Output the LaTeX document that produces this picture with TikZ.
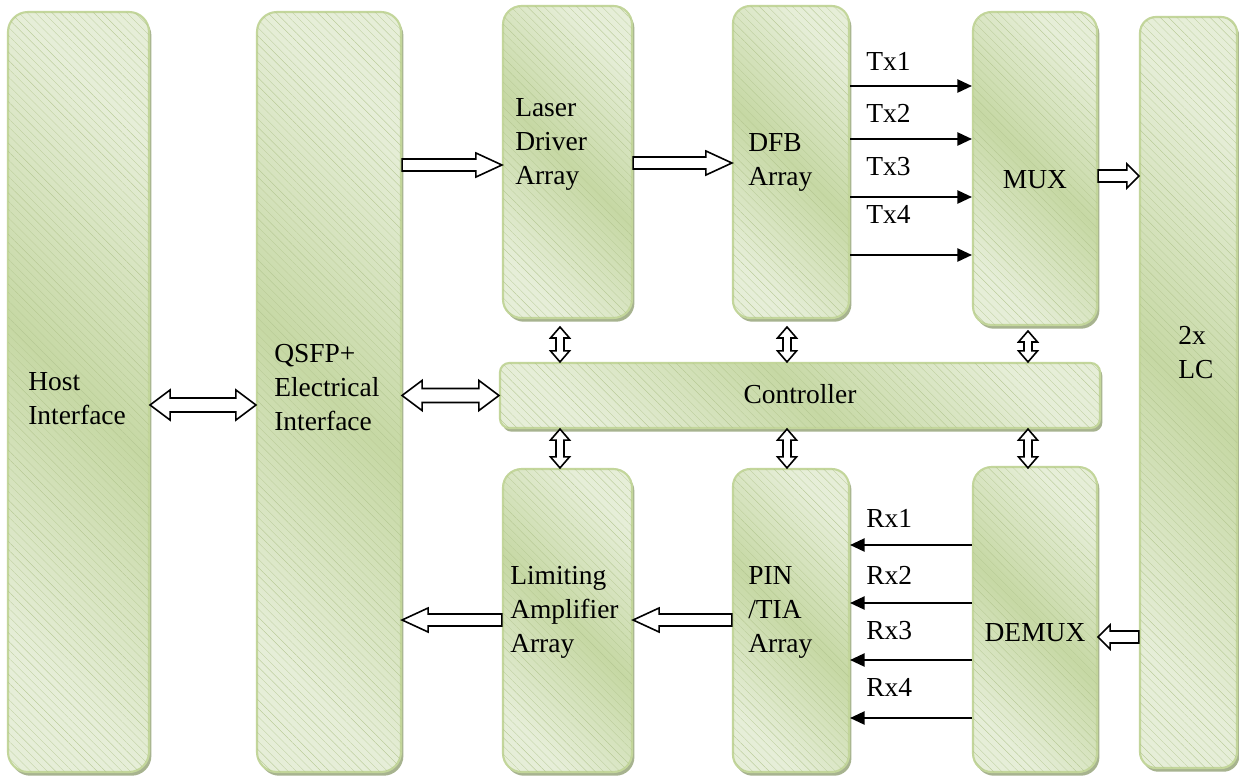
\documentclass[tikz,border=0pt]{standalone}
\usepackage{fontspec}
\setmainfont{Liberation Serif}
\usetikzlibrary{shadows,fit,calc,arrows.meta,patterns.meta}
\definecolor{bfillL}{HTML}{E6EED8}
\definecolor{bfillD}{HTML}{C6D8A4}
\definecolor{bdraw}{HTML}{C3D69B}
\definecolor{bshadow}{HTML}{A7B38F}
\definecolor{hatchc}{HTML}{B2C58E}
\tikzset{
  box/.style={draw=bdraw, line width=1.6pt, top color=bfillL, bottom color=bfillL,
    middle color=bfillD, shading angle=-45, inner sep=0pt,
    drop shadow={shadow xshift=1.8pt, shadow yshift=-2.8pt, fill=bshadow, opacity=1},
    postaction={pattern={Lines[angle=-45,distance=4.4pt,line width=0.18pt]}, pattern color=hatchc}},
  lbl/.style={font=\fontsize{20.6}{25.5}\selectfont, align=left, inner sep=0pt, text=black},
  hol/.style={draw=black, fill=white, line width=1.2pt, line join=miter},
  sig/.style={draw=black, line width=1.3pt, -{Triangle[length=11pt,width=10pt]}},
}
% tail #1, tip #2 (tip to the right); #3 shaft half, #4 head half, #5 head length
\newcommand\harR[5]{\draw[hol] ([shift={(0,-#3)}]#1) -- ([shift={(-#5,-#3)}]#2) -- ([shift={(-#5,-#4)}]#2) -- (#2) -- ([shift={(-#5,#4)}]#2) -- ([shift={(-#5,#3)}]#2) -- ([shift={(0,#3)}]#1) -- cycle;}
% tip #1 (left), tail #2 (right)
\newcommand\harL[5]{\draw[hol] (#1) -- ([shift={(#5,-#4)}]#1) -- ([shift={(#5,-#3)}]#1) -- ([shift={(0,-#3)}]#2) -- ([shift={(0,#3)}]#2) -- ([shift={(#5,#3)}]#1) -- ([shift={(#5,#4)}]#1) -- cycle;}
% double horizontal: left tip #1, right tip #2
\newcommand\harLR[5]{\draw[hol] (#1) -- ([shift={(#5,-#4)}]#1) -- ([shift={(#5,-#3)}]#1) -- ([shift={(-#5,-#3)}]#2) -- ([shift={(-#5,-#4)}]#2) -- (#2) -- ([shift={(-#5,#4)}]#2) -- ([shift={(-#5,#3)}]#2) -- ([shift={(#5,#3)}]#1) -- ([shift={(#5,#4)}]#1) -- cycle;}
% double vertical: top tip #1, bottom tip #2
\newcommand\varUD[5]{\draw[hol] (#1) -- ([shift={(#4,#5)}]#1) -- ([shift={(#3,#5)}]#1) -- ([shift={(#3,-#5)}]#2) -- ([shift={(#4,-#5)}]#2) -- (#2) -- ([shift={(-#4,-#5)}]#2) -- ([shift={(-#3,-#5)}]#2) -- ([shift={(-#3,#5)}]#1) -- ([shift={(-#4,#5)}]#1) -- cycle;}
\begin{document}
\begin{tikzpicture}[x=0.75pt,y=-0.75pt]
\useasboundingbox[fill=white] (0,0) rectangle (1239,782);
% boxes
\node[box, rounded corners=15pt, fit={(8,12)(149,772)}] (host) {};
\node[box, rounded corners=15pt, fit={(257,12)(401,772)}] (qsfp) {};
\node[box, rounded corners=14pt, fit={(503,6)(632,318)}] (ldrv) {};
\node[box, rounded corners=13pt, fit={(733,6)(849,318)}] (dfb) {};
\node[box, rounded corners=14pt, fit={(973,12)(1097,325)}] (mux) {};
\node[box, rounded corners=12pt, fit={(1140,17)(1237,768)}] (lc) {};
\node[box, rounded corners=7pt, fit={(500,363)(1100,428)}] (ctrl) {};
\node[box, rounded corners=14pt, fit={(503,469)(632,772)}] (lim) {};
\node[box, rounded corners=13pt, fit={(733,469)(849,772)}] (pin) {};
\node[box, rounded corners=14pt, fit={(973,467)(1097,772)}] (demux) {};
% texts
\node[lbl, anchor=west] (thost) at (28,399) {Host\\Interface};
\node[lbl, anchor=west] (tqsfp) at (274,388) {QSFP+\\Electrical\\Interface};
\node[lbl, anchor=west] (tldrv) at (515,144) {Laser\\Driver\\Array};
\node[lbl, anchor=west] (tdfb) at (748,162) {DFB\\Array};
\node[lbl] (tmux) at (1035,180) {MUX};
\node[lbl, anchor=west] (tlc) at (1178,353) {2x\\LC};
\node[lbl] (tctrl) at (800,394) {Controller};
\node[lbl, anchor=west] (tlim) at (510,612) {Limiting\\Amplifier\\Array};
\node[lbl, anchor=west] (tpin) at (748,612) {PIN\\/TIA\\Array};
\node[lbl] (tdemux) at (1035,633) {DEMUX};
\node[lbl, anchor=west] (tx1) at (866,61) {Tx1};
\node[lbl, anchor=west] (tx2) at (866,113) {Tx2};
\node[lbl, anchor=west] (tx3) at (866,167) {Tx3};
\node[lbl, anchor=west] (tx4) at (866,214) {Tx4};
\node[lbl, anchor=west] (rx1) at (866,518) {Rx1};
\node[lbl, anchor=west] (rx2) at (866,575) {Rx2};
\node[lbl, anchor=west] (rx3) at (866,631) {Rx3};
\node[lbl, anchor=west] (rx4) at (866,687) {Rx4};
% Tx / Rx signal arrows
\foreach \yy in {86,139,197,255} \draw[sig] (dfb.east |- 0,\yy) -- (mux.west |- 0,\yy);
\foreach \yy in {545,603,660,718} \draw[sig] (demux.west |- 0,\yy) -- (pin.east |- 0,\yy);
% hollow arrows
\coordinate (hq1) at (host.east |- 0,405); \coordinate (hq2) at (qsfp.west |- 0,405);
\harLR{hq1}{hq2}{7}{15}{20}
\coordinate (qc1) at (qsfp.east |- ctrl.west); \coordinate (qc2) at (ctrl.west);
\harLR{qc1}{qc2}{7}{15}{20}
\coordinate (ql1) at (qsfp.east |- 0,165); \coordinate (ql2) at (ldrv.west |- 0,165);
\harR{ql1}{ql2}{6}{12}{26}
\coordinate (ld1) at (ldrv.east |- 0,163); \coordinate (ld2) at (dfb.west |- 0,163);
\harR{ld1}{ld2}{6}{12}{26}
\coordinate (ml1) at (mux.east |- 0,176); \coordinate (ml2) at (lc.west |- 0,176);
\harR{ml1}{ml2}{6}{12}{12}
\coordinate (ld3) at (demux.east |- 0,637); \coordinate (ld4) at (lc.west |- 0,637);
\harL{ld3}{ld4}{6}{12}{12}
\coordinate (lq1) at (qsfp.east |- 0,620); \coordinate (lq2) at (lim.west |- 0,620);
\harL{lq1}{lq2}{6}{12}{26}
\coordinate (pl1) at (lim.east |- 0,620); \coordinate (pl2) at (pin.west |- 0,620);
\harL{pl1}{pl2}{6}{12}{26}
% vertical double arrows
\foreach \xx/\yt in {560/327,787/327,1028/331} {
  \coordinate (vt) at (\xx,\yt);
  \coordinate (vb) at (\xx,0 |- ctrl.north);
  \varUD{vt}{vb}{4}{9.5}{11}
  \coordinate (wt) at (\xx,0 |- ctrl.south); \coordinate (wb) at (\xx,0 |- lim.north);
  \varUD{wt}{wb}{4}{9.5}{11}
}
\end{tikzpicture}
\end{document}
